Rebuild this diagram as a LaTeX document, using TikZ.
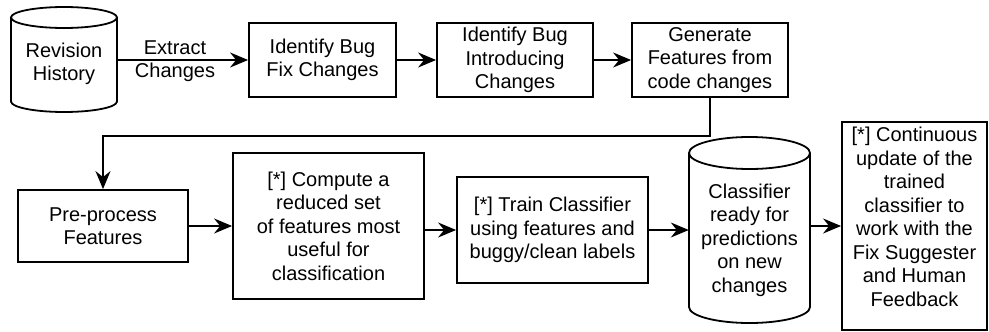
\documentclass[tikz,border=0pt]{standalone}
\usepackage{fontspec}
\setmainfont{Liberation Sans}
\usetikzlibrary{arrows.meta}
\begin{document}
\begin{tikzpicture}[x=1pt,y=-1pt,
  lbl/.style={align=center, inner sep=0pt, font=\fontsize{20}{23.5}\selectfont},
  box/.style={lbl, draw, line width=1.8pt, rectangle},
  area/.style={rectangle, inner sep=0pt},
  arr/.style={line width=1.8pt, -{Stealth[length=18pt,width=15pt,inset=6pt]}},
  cyl/.style={line width=1.8pt}
]
\useasboundingbox (0,0) rectangle (989,332);

% cylinder 1
\node[area, minimum width=106pt, minimum height=105pt] (rh) at (64,59.5) {};
\draw[cyl] (64,17.5) ellipse[x radius=53, y radius=10.5];
\draw[cyl] (11,17.5) -- (11,101.5) arc[start angle=180, end angle=0, x radius=53, y radius=10.5] -- (117,17.5);
\node[lbl] (rht) at (64,64) {Revision\\History};

% top row boxes
\node[box, minimum width=147pt, minimum height=74pt] (b1) at (322.5,60) {Identify Bug\\Fix Changes};
\node[box, minimum width=156pt, minimum height=74pt] (b2) at (515,60) {Identify Bug\\Introducing\\Changes};
\node[box, minimum width=156pt, minimum height=74pt] (b3) at (710,60) {Generate\\Features from\\code changes};

% bottom row
\node[box, minimum width=170pt, minimum height=72pt] (pp) at (103,226) {Pre-process\\Features};
\node[box, minimum width=191pt, minimum height=146pt] (cmp) at (328.5,226) {{[*]} Compute a\\reduced set\\of features most\\useful for\\classification};
\node[box, minimum width=191pt, minimum height=106pt] (tr) at (552.5,230) {{[*]} Train Classifier\\using features and\\buggy/clean labels};

% cylinder 2
\node[area, minimum width=121pt, minimum height=186pt] (cc) at (749.5,230) {};
\draw[cyl] (749.5,153) ellipse[x radius=60.5, y radius=16];
\draw[cyl] (689,153) -- (689,307) arc[start angle=180, end angle=0, x radius=60.5, y radius=16] -- (810,153);
\node[lbl] (cct) at (749.5,240) {Classifier\\ready for\\predictions\\on new\\changes};

% last box
\node[box, minimum width=145pt, minimum height=208pt] (last) at (914.5,226) {};
\node[lbl] (lastt) at (914.5,217) {{[*]} Continuous\\update of the\\trained\\classifier to\\work with the\\Fix Suggester\\and Human\\Feedback};

% connectors
\draw[arr] (rh.east |- b1.west) -- (b1.west);
\node[lbl] (ex) at (175,61) {Extract\\Changes};
\draw[arr] (b1.east) -- (b2.west);
\draw[arr] (b2.east) -- (b3.west);
\draw[arr] (b3.south) -- ++(0,38) -| (pp.north);
\draw[arr] (pp.east) -- (cmp.west);
\draw[arr] (cmp.east |- tr.west) -- (tr.west);
\draw[arr] (tr.east) -- (cc.west |- tr.east);
\draw[arr] (cc.east |- last.west) -- (last.west);
\end{tikzpicture}
\end{document}
